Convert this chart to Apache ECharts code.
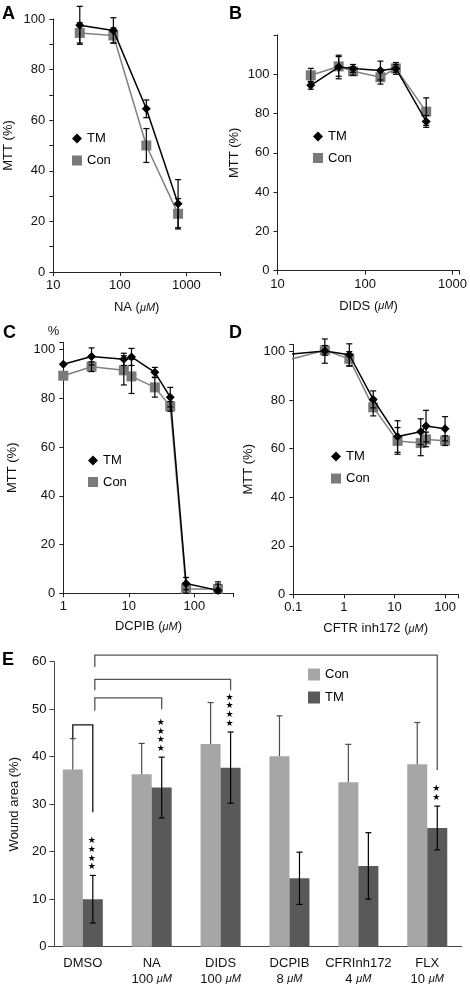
<!DOCTYPE html>
<html><head><meta charset="utf-8">
<script src="https://cdn.jsdelivr.net/npm/echarts@6/dist/echarts.min.js"></script>
<style>html,body{margin:0;padding:0;background:#fff}#c{width:470px;height:988px}</style>
</head><body><div id="c"></div><script>
// ---------- Panel A : NA ----------
const aX = [25, 80, 250, 750];
const aTM = [97.5, 95.5, 64.5, 27];
const aTMerr = [7.5, 5, 3.5, 9.5];
const aCon = [94.5, 93.5, 50, 23];
const aConErr = [4, 3, 6.7, 6];
// ---------- Panel B : DIDS ----------
const bX = [24, 50, 73, 150, 225, 500];
const bTM = [94.4, 103.7, 103, 101.9, 103, 76];
const bTMerr = [2, 6, 2, 4.8, 2, 3];
const bCon = [99.5, 104, 101.5, 98.5, 103, 81];
const bConErr = [3.5, 5, 2, 3.5, 3, 7];
// ---------- Panel C : DCPIB ----------
const cX = [1, 2.7, 8.4, 11, 25, 43, 75, 230];
const cTM = [94, 97.2, 96, 97, 90.7, 80.5, 4, 1.2];
const cTMerr = [null, 3.5, 2.5, 3.5, 2, 4, 2.5, 3.5];
const cCon = [89.3, 93, 91.5, 89, 84.5, 76.7, 1.8, 1.8];
const cConErr = [null, 2, 6, 7, 4, 2, 2, 2];
// ---------- Panel D : CFTR inh172 ----------
const dX = [0.07, 0.42, 1.28, 3.8, 11.5, 33, 42, 100];
const dTM = [98.8, 100.2, 98.7, 80.3, 65, 67, 69.3, 68.2];
const dTMerr = [null, 5, 4.5, 3.5, 6.5, 5.3, 6.5, 5];
const dCon = [96.3, 100.5, 97, 77, 63.2, 62.3, 63.8, 63.3];
const dConErr = [null, 2, 3, 3.5, 5.5, 5.2, 3, 2];
// ---------- Panel E : wound area ----------
const eCats = ['DMSO', 'NA', 'DIDS', 'DCPIB', 'CFRInh172', 'FLX'];
const eDoses = ['', '100', '100', '8', '4', '10'];
const eCon = [37.3, 36.3, 42.7, 40.1, 34.6, 38.4];
const eConErr = [6.5, 6.5, 8.7, 8.5, 8.0, 8.8];
const eTM = [10, 33.5, 37.7, 14.4, 17, 25];
const eTMerr = [5, 6.4, 7.5, 5.5, 7, 4.6];
const eStars = [4, 4, 4, 0, 0, 2];
// significance brackets
const brLeftCat = [0, 0, 0, 0];
const brLeftBar = ['Con', 'TM', 'TM', 'TM'];
const brRightCat = [0, 1, 2, 5];
const brRightBar = ['TM', 'TM', 'TM', 'TM'];
const brTop = [46.7, 52.4, 56.3, 61.4];
const brLeftEnd = [43.9, 49.7, 54, 58.9];
const brRightEnd = [28.3, 50, 54, 37.2];

const FONT = 'Liberation Sans, Arial, Helvetica, sans-serif';
const TMC = '#000000', CONC = '#808080', CONM = '#7a7a7a';
const BARCON = '#a6a6a6', BARTM = '#595959';
const BARW = 20;

function logFmt(v) {
  const l = Math.log10(v), p = Math.round(l);
  if (Math.abs(l - p) > 1e-6) return '';
  return p < 0 ? (Math.pow(10, p)).toFixed(-p) : String(Math.round(Math.pow(10, p)));
}
const axLine = { lineStyle: { color: '#222', width: 1 } };
const lblStyle = { color: '#111', fontSize: 13, fontFamily: FONT };
const rich = { i: { fontStyle: 'italic', fontSize: 11, fontFamily: FONT, color: '#111' } };

function xLog(gi, min, max, name, gap) {
  return {
    gridIndex: gi, type: 'log', logBase: 10, min, max,
    axisLine: axLine, axisTick: { length: 4, lineStyle: { color: '#222' } },
    splitLine: { show: false }, minorTick: { show: false },
    axisLabel: Object.assign({ margin: 7, formatter: logFmt }, lblStyle),
    name, nameLocation: 'middle', nameGap: gap,
    nameTextStyle: Object.assign({ rich }, lblStyle)
  };
}
function yVal(gi, max, interval, labelStep, gap) {
  return {
    gridIndex: gi, type: 'value', min: 0, max, interval, position: 'left',
    axisLine: Object.assign({ show: true }, axLine),
    axisTick: { show: true, length: 4, lineStyle: { color: '#222' } },
    splitLine: { show: false },
    axisLabel: Object.assign({ margin: 8, formatter: v => (Math.abs(v % labelStep) < 1e-6 && v <= 100 ? String(v) : '') }, lblStyle),
    name: 'MTT (%)', nameLocation: 'middle', nameGap: gap, nameTextStyle: lblStyle
  };
}

function errSeries(ai, xs, ys, es, color, dx, upOnly) {
  const data = [];
  xs.forEach((x, i) => { if (es[i] != null) data.push([x, ys[i], es[i]]); });
  return {
    type: 'custom', xAxisIndex: ai, yAxisIndex: ai, data, z: 6, silent: true, clip: false,
    encode: { x: 0, y: 1 },
    renderItem(params, api) {
      const x = api.value(0), y = api.value(1), e = api.value(2);
      const t = api.coord([x, y + e]);
      const b = api.coord([x, upOnly ? y : Math.max(0, y - e)]);
      const ox = dx || 0, cw = 3;
      const st = { stroke: color, lineWidth: 1.2 };
      const ch = [
        { type: 'line', shape: { x1: t[0] + ox, y1: t[1], x2: b[0] + ox, y2: b[1] }, style: st },
        { type: 'line', shape: { x1: t[0] + ox - cw, y1: t[1], x2: t[0] + ox + cw, y2: t[1] }, style: st }
      ];
      if (!upOnly) ch.push({ type: 'line', shape: { x1: b[0] + ox - cw, y1: b[1], x2: b[0] + ox + cw, y2: b[1] }, style: st });
      return { type: 'group', children: ch };
    }
  };
}
function lineSeries(ai, name, xs, ys, color, mcolor, symbol, size, hiddenFirst) {
  return {
    type: 'line', name, xAxisIndex: ai, yAxisIndex: ai, z: name === 'TM' ? 4 : 3,
    clip: false, symbol, symbolSize: size, showAllSymbol: true,
    lineStyle: { color, width: 1.5 }, itemStyle: { color: mcolor },
    data: xs.map((x, i) => (hiddenFirst && i === 0) ? { value: [x, ys[i]], symbol: 'none' } : [x, ys[i]]),
    silent: true, animation: false
  };
}
function panelSeries(ai, xs, tm, tmE, con, conE, hiddenFirst) {
  return [
    lineSeries(ai, 'Con', xs, con, CONC, CONM, 'rect', 10, hiddenFirst),
    lineSeries(ai, 'TM', xs, tm, TMC, TMC, 'diamond', 9, hiddenFirst),
    errSeries(ai, xs, con, conE, '#000', 0, false),
    errSeries(ai, xs, tm, tmE, '#000', 0, false)
  ];
}
function legendAt(left, top, gap, iw, ih, conColor, tmColor, order) {
  const items = {
    TM: { name: 'TM', icon: order[0] === 'Con' ? 'rect' : 'diamond', itemStyle: { color: tmColor } },
    Con: { name: 'Con', icon: 'rect', itemStyle: { color: conColor } }
  };
  return {
    left, top, orient: 'vertical', padding: 0, itemGap: gap, itemWidth: iw, itemHeight: ih,
    selectedMode: false, textStyle: { color: '#000', fontSize: 13, fontFamily: FONT },
    data: order.map(k => items[k])
  };
}

const chart = echarts.init(document.getElementById('c'), null, { renderer: 'canvas' });
const eLabel = (v) => {
  const idx = eCats.indexOf(v);
  return eDoses[idx] ? '{n|' + v + '}\n{n|' + eDoses[idx] + ' }{i|μM}' : '{n|' + v + '}';
};

const series = [].concat(
  panelSeries(0, aX, aTM, aTMerr, aCon, aConErr, false),
  panelSeries(1, bX, bTM, bTMerr, bCon, bConErr, false),
  panelSeries(2, cX, cTM, cTMerr, cCon, cConErr, false),
  panelSeries(3, dX, dTM, dTMerr, dCon, dConErr, true),
  [
    { type: 'bar', name: 'Con', xAxisIndex: 4, yAxisIndex: 4, data: eCon, barWidth: BARW, barGap: '0%',
      itemStyle: { color: BARCON }, silent: true, animation: false },
    { type: 'bar', name: 'TM', xAxisIndex: 4, yAxisIndex: 4, data: eTM, barWidth: BARW, barGap: '0%',
      itemStyle: { color: BARTM }, silent: true, animation: false },
    errSeries(4, eCats.map((c, i) => i), eCon, eConErr, '#4d4d4d', -BARW / 2, true),
    errSeries(4, eCats.map((c, i) => i), eTM, eTMerr, '#000', BARW / 2, false),
    {
      type: 'custom', xAxisIndex: 4, yAxisIndex: 4, z: 7, silent: true, clip: false,
      data: brTop.map((t, i) => [brLeftCat[i], t]),
      encode: { x: 0, y: 1 },
      renderItem(params, api) {
        const i = params.dataIndex;
        const off = b => (b === 'TM' ? BARW / 2 : -BARW / 2);
        const lt = api.coord([brLeftCat[i], brTop[i]]), lb = api.coord([brLeftCat[i], brLeftEnd[i]]);
        const rt = api.coord([brRightCat[i], brTop[i]]), rb = api.coord([brRightCat[i], brRightEnd[i]]);
        const xl = lt[0] + off(brLeftBar[i]) + (brLeftBar[i] === 'TM' ? 2 : 0), xr = rt[0] + off(brRightBar[i]);
        return {
          type: 'polyline',
          shape: { points: [[xl, lb[1]], [xl, lt[1]], [xr, rt[1]], [xr, rb[1]]] },
          style: { stroke: i === 0 ? '#111' : '#555', lineWidth: 1.3, fill: null }
        };
      }
    },
    {
      type: 'custom', xAxisIndex: 4, yAxisIndex: 4, z: 7, silent: true, clip: false,
      data: eTM.map((v, i) => [i, v + eTMerr[i]]),
      encode: { x: 0, y: 1 },
      renderItem(params, api) {
        const i = params.dataIndex;
        if (!eStars[i]) return null;
        const p = api.coord([i, eTM[i] + eTMerr[i]]);
        return {
          type: 'text', x: p[0] + BARW / 2 - 1, y: p[1] - 4,
          style: { text: Array(eStars[i]).fill('★').join('\n'), fill: '#000', font: '9px DejaVu Sans',
            lineHeight: 8.8, align: 'center', verticalAlign: 'bottom' }
        };
      }
    }
  ]
);

chart.setOption({
  animation: false,
  textStyle: { fontFamily: FONT },
  title: [
    { text: 'A', left: 2, top: 5 }, { text: 'B', left: 229, top: 5 },
    { text: 'C', left: 3, top: 324 }, { text: 'D', left: 229, top: 324 },
    { text: 'E', left: 2, top: 651 }
  ].map(t => Object.assign(t, { padding: 0, textStyle: { fontSize: 18, fontWeight: 'bold', color: '#000', fontFamily: FONT } })),
  grid: [
    { left: 53.3, top: 19, width: 166.7, height: 253 },
    { left: 277.5, top: 35, width: 183, height: 235.7 },
    { left: 63.3, top: 342.3, width: 170.4, height: 251 },
    { left: 293.3, top: 344.3, width: 164.7, height: 250 },
    { left: 47.3, top: 661.7, width: 414.4, height: 285 }
  ],
  xAxis: [
    xLog(0, 10, 3200, 'NA ({i|μM})', 29),
    xLog(1, 10, 1200, 'DIDS ({i|μM})', 29),
    xLog(2, 1, 400, 'DCPIB ({i|μM})', 27),
    xLog(3, 0.1, 180, 'CFTR inh172 ({i|μM})', 28),
    {
      gridIndex: 4, type: 'category', data: eCats,
      axisLine: { lineStyle: { color: '#444', width: 1 } },
      axisTick: { length: 5, lineStyle: { color: '#444' } },
      axisLabel: { interval: 0, margin: 9, formatter: eLabel, lineHeight: 15.5,
        rich: { n: { fontSize: 13, color: '#111', fontFamily: FONT, lineHeight: 15.5 },
                i: { fontSize: 11, fontStyle: 'italic', color: '#111', fontFamily: FONT, lineHeight: 15.5 } } }
    }
  ],
  yAxis: [
    yVal(0, 100, 10, 20, 38),
    yVal(1, 120, 20, 20, 37),
    yVal(2, 103, 20, 20, 44),
    yVal(3, 103, 20, 20, 38),
    {
      gridIndex: 4, type: 'value', min: 0, max: 60, interval: 10, offset: -6, position: 'left',
      axisLine: { show: true, lineStyle: { color: '#444', width: 1 } },
      axisTick: { show: true, length: 5, lineStyle: { color: '#444' } },
      splitLine: { show: false },
      axisLabel: Object.assign({ margin: 8 }, lblStyle),
      name: 'Wound area (%)', nameLocation: 'middle', nameGap: 31, nameTextStyle: lblStyle
    },
    {
      gridIndex: 2, type: 'value', min: 0, max: 103, position: 'left', offset: 0,
      axisLine: { show: false }, axisTick: { show: false }, axisLabel: { show: false }, splitLine: { show: false },
      name: '%', nameLocation: 'end', nameGap: 4,
      nameTextStyle: Object.assign({ align: 'right', padding: [0, 4, 0, 0] }, lblStyle)
    }
  ],
  legend: [
    legendAt(72, 132, 9, 10, 10, CONM, TMC, ['TM', 'Con']),
    legendAt(313, 130, 8.5, 10, 10, CONM, TMC, ['TM', 'Con']),
    legendAt(88, 454, 8.5, 10, 10, CONM, TMC, ['TM', 'Con']),
    legendAt(331, 450, 9, 10, 10, CONM, TMC, ['TM', 'Con']),
    legendAt(308, 668, 10, 12, 12, BARCON, BARTM, ['Con', 'TM'])
  ],
  series
});
</script></body></html>
